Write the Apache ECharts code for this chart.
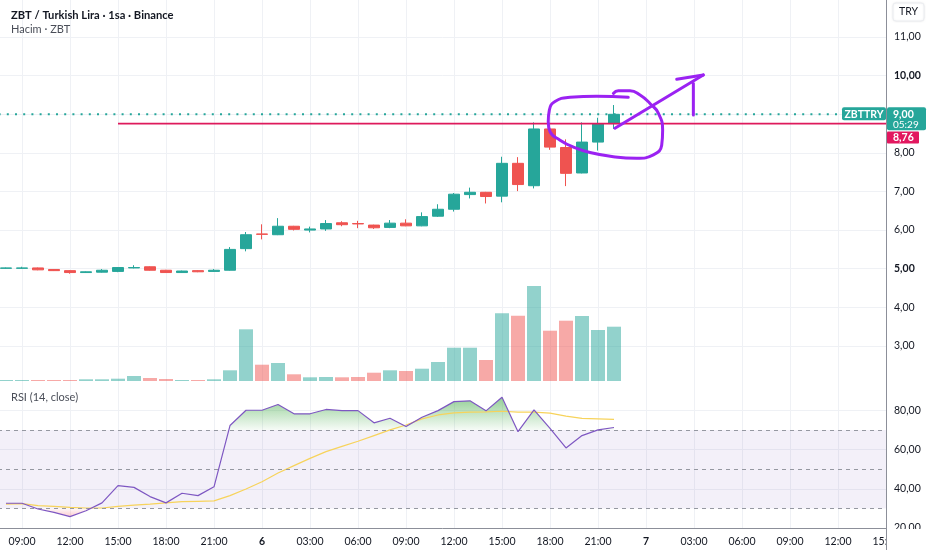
<!DOCTYPE html>
<html>
<head>
<meta charset="utf-8">
<script src="https://cdn.jsdelivr.net/npm/echarts@6/dist/echarts.min.js"></script>
<style>
  html, body { margin: 0; padding: 0; background: #fff; }
  #chart { width: 932px; height: 550px; }
</style>
</head>
<body>
<div id="chart"></div>
<script>
// hourly bars, "day hh:mm"
var times = [
  '5 08:00', '5 09:00', '5 10:00', '5 11:00', '5 12:00', '5 13:00', '5 14:00', '5 15:00',
  '5 16:00', '5 17:00', '5 18:00', '5 19:00', '5 20:00', '5 21:00', '5 22:00', '5 23:00',
  '6 00:00', '6 01:00', '6 02:00', '6 03:00', '6 04:00', '6 05:00', '6 06:00', '6 07:00',
  '6 08:00', '6 09:00', '6 10:00', '6 11:00', '6 12:00', '6 13:00', '6 14:00', '6 15:00',
  '6 16:00', '6 17:00', '6 18:00', '6 19:00', '6 20:00', '6 21:00', '6 22:00'
];
var open  = [5.01, 5.01, 5.02, 4.98, 4.95, 4.90, 4.91, 4.93, 5.02, 5.05, 4.96, 4.90, 4.95, 4.93, 4.96, 5.52,
             5.90, 5.88, 6.10, 6.00, 6.03, 6.19, 6.17, 6.13, 6.07, 6.18, 6.11, 6.36, 6.54, 6.92, 6.98, 6.88,
             7.73, 7.15, 8.62, 8.14, 7.48, 8.28, 8.76];
var close = [5.02, 5.02, 4.97, 4.95, 4.90, 4.92, 4.96, 5.03, 5.03, 4.96, 4.90, 4.94, 4.92, 4.96, 5.50, 5.88,
             5.89, 6.10, 6.02, 6.03, 6.17, 6.14, 6.16, 6.06, 6.18, 6.11, 6.35, 6.54, 6.93, 6.98, 6.87, 7.73,
             7.18, 8.62, 8.15, 7.47, 8.28, 8.76, 9.00];
var low   = [5.00, 5.00, 4.96, 4.94, 4.87, 4.89, 4.90, 4.91, 5.01, 4.95, 4.89, 4.89, 4.91, 4.92, 4.95, 5.45,
             5.76, 5.87, 5.99, 5.94, 5.98, 6.10, 6.05, 6.03, 6.05, 6.10, 6.10, 6.34, 6.48, 6.82, 6.69, 6.72,
             7.01, 7.08, 8.08, 7.14, 7.47, 8.06, 8.62];
var high  = [5.03, 5.05, 5.03, 4.99, 4.96, 4.93, 4.99, 5.04, 5.09, 5.06, 4.97, 4.95, 4.96, 4.99, 5.56, 5.95,
             6.15, 6.31, 6.11, 6.09, 6.26, 6.23, 6.24, 6.14, 6.26, 6.28, 6.46, 6.67, 6.96, 7.10, 6.99, 7.90,
             7.89, 8.79, 8.63, 8.35, 8.79, 8.91, 9.24];
var volume = [1, 1, 1, 1, 1, 1.7, 1.7, 2.3, 5, 3, 2, 1, 1, 1.7, 10.7, 51.7,
              16.3, 18, 6.7, 3.7, 4, 3.7, 4, 8.3, 10.7, 10, 12.3, 19, 33.3, 33.3, 21, 67.7,
              65.3, 95, 50.3, 60.3, 65, 51, 54.3];
var rsi   = [32.6, 32.6, 29.7, 28.0, 25.8, 28.8, 32.8, 41.6, 40.7, 36.0, 32.8, 37.7, 36.5, 41.0, 72.2, 80.0,
             80.0, 82.9, 78.2, 78.2, 80.4, 79.8, 79.8, 73.6, 75.9, 71.7, 76.4, 79.8, 84.4, 84.8, 79.7, 86.6,
             69.1, 80.2, 70.8, 60.8, 67.1, 70.0, 71.2];
var rsiMa = [32.2, 32.4, 31.4, 31.0, 30.5, 30.2, 30.2, 31.0, 31.7, 32.2, 32.8, 33.4, 33.6, 33.8, 36.5, 39.9,
             43.6, 48.0, 51.8, 55.5, 58.9, 61.6, 64.2, 67.1, 70.0, 72.5, 75.6, 77.6, 78.7, 79.0, 79.2, 79.5,
             79.0, 79.0, 78.5, 77.0, 75.9, 75.6, 75.3];

var priceRange = [2, 12];
var rsiRange = [20, 100];
var rsiUpper = 70, rsiMid = 50, rsiLower = 30;
var lastPrice = 9.00;
var countdown = '05:29';
var levelPrice = 8.76;
var levelFrom = '5 15:00';
var axisEnd = '7 15:00';

// hand-drawn annotation, in [hour index, price]
var annotLoop = [[40.89, 9.44], [38.92, 9.47], [37.25, 9.44], [36.31, 9.33], [35.96, 9.11], [35.89, 8.81],
                 [36.0, 8.55], [36.63, 8.33], [37.46, 8.15], [38.5, 8.01], [39.96, 7.90], [41.42, 7.86],
                 [42.46, 7.95], [42.98, 8.20], [43.04, 8.59], [42.77, 9.03], [42.25, 9.28], [41.63, 9.50],
                 [41.0, 9.61], [40.27, 9.61], [39.96, 9.54]];
var annotShaft = [[40.06, 8.64], [45.58, 10.02]];
var annotHead1 = [[43.92, 9.91], [45.58, 10.02]];
var annotHead2 = [[44.96, 9.80], [44.96, 8.98]];

var UP = '#26a69a', DOWN = '#ef5350';
var FONT = 'Lato';

function hourIndex(t) {
  var p = t.split(' ');
  return (+p[0] - 5) * 24 + (+p[1].split(':')[0]) - 6;
}
function fmt(v) { return v.toFixed(2).replace('.', ','); }

var hours = times.map(hourIndex);
var xMax = hourIndex(axisEnd);
var candles = hours.map(function (h, i) { return [h, open[i], close[i], low[i], high[i]]; });
var vols = hours.map(function (h, i) {
  return { value: [h, volume[i]], itemStyle: { color: close[i] >= open[i] ? 'rgba(38,166,154,0.5)' : 'rgba(239,83,80,0.5)' } };
});
var pair = function (arr) { return hours.map(function (h, i) { return [h, arr[i]]; }); };

// RSI outline clamped to a threshold, with the crossing points put in
function clampAt(t, above) {
  var out = [];
  for (var i = 0; i < hours.length; i++) {
    if (i > 0 && (rsi[i - 1] - t) * (rsi[i] - t) < 0) {
      var f = (t - rsi[i - 1]) / (rsi[i] - rsi[i - 1]);
      out.push([hours[i - 1] + f * (hours[i] - hours[i - 1]), t]);
    }
    out.push([hours[i], above ? Math.max(rsi[i], t) : Math.min(rsi[i], t)]);
  }
  return out;
}
function zoneSeries(t, above, fill) {
  var pts = clampAt(t, above);
  return {
    type: 'custom', xAxisIndex: 1, yAxisIndex: 1, silent: true, z: 2, data: [0],
    renderItem: function (params, api) {
      var poly = pts.map(function (p) { return api.coord(p); });
      poly.push(api.coord([hours[hours.length - 1], t]));
      poly.push(api.coord([hours[0], t]));
      return { type: 'polygon', shape: { points: poly }, style: { fill: fill } };
    }
  };
}

function xAxisCommon(idx, showLabel) {
  return {
    type: 'value', gridIndex: idx, min: 0, max: xMax, interval: 3,
    axisTick: { show: false },
    axisLine: { show: showLabel, lineStyle: { color: '#8c8f99' } },
    splitLine: { show: idx < 2, lineStyle: { color: '#eff1f5' } },
    axisLabel: {
      show: showLabel, color: '#131722', fontFamily: FONT, fontSize: 10.5, margin: 8,
      showMinLabel: true, showMaxLabel: true,
      formatter: function (v) {
        var hh = (6 + v) % 24, day = 5 + Math.floor((6 + v) / 24);
        if (hh === 0) return '{d|' + day + '}';
        return (hh < 10 ? '0' : '') + hh + ':00';
      },
      rich: { d: { fontWeight: 'bold', fontFamily: FONT, fontSize: 10.5, color: '#131722' } }
    }
  };
}

var chart = echarts.init(document.getElementById('chart'));
var option = {
  animation: false,
  backgroundColor: '#fff',
  textStyle: { fontFamily: FONT },
  title: [
    { text: 'ZBT / Turkish Lira · 1sa · Binance', left: 6, top: 5, textStyle: { fontFamily: FONT, fontSize: 11.2, fontWeight: 'bold', color: '#131722' } },
    { text: 'Hacim · ZBT', left: 6, top: 19, textStyle: { fontFamily: FONT, fontSize: 11, fontWeight: 'normal', color: '#4a4e58' } },
    { text: 'RSI (14, close)', left: 6, top: 387, textStyle: { fontFamily: FONT, fontSize: 11, fontWeight: 'normal', color: '#4a4e58' } }
  ],
  grid: [
    { left: -26, right: 46, top: -1.5, height: 386, outerBoundsMode: 'none' },
    { left: -26, right: 46, top: 371, height: 157, outerBoundsMode: 'none' },
    { left: -26, right: 46, top: 181, height: 200, outerBoundsMode: 'none' }
  ],
  xAxis: [xAxisCommon(0, false), xAxisCommon(1, true), xAxisCommon(2, false)],
  yAxis: [
    {
      type: 'value', gridIndex: 0, position: 'right', min: priceRange[0], max: priceRange[1], interval: 1,
      axisLine: { show: false }, axisTick: { show: false },
      splitLine: { show: true, showMinLine: false, showMaxLine: false, lineStyle: { color: '#eff1f5' } },
      axisLabel: {
        showMinLabel: false, showMaxLabel: false, margin: 8, color: '#131722', fontFamily: FONT, fontSize: 10.5,
        formatter: function (v) { return v % 5 === 0 ? '{b|' + fmt(v) + '}' : fmt(v); },
        rich: { b: { fontWeight: 'bold', fontFamily: FONT, fontSize: 10.5, color: '#131722' } }
      }
    },
    {
      type: 'value', gridIndex: 1, position: 'right', min: rsiRange[0], max: rsiRange[1], interval: 20,
      axisLine: { show: false }, axisTick: { show: false },
      splitLine: { show: true, showMinLine: false, showMaxLine: false, lineStyle: { color: '#eff1f5' } },
      axisLabel: { showMaxLabel: false, margin: 8, color: '#131722', fontFamily: FONT, fontSize: 10.5, formatter: fmt }
    },
    { type: 'value', gridIndex: 2, min: 0, max: 200, show: false }
  ],
  series: [
    {
      name: 'Hacim', type: 'bar', xAxisIndex: 2, yAxisIndex: 2, barWidth: 14, data: vols, z: 1
    },
    {
      name: 'ZBTTRY', type: 'candlestick', xAxisIndex: 0, yAxisIndex: 0, barWidth: 11,
      encode: { x: 0, y: [1, 2, 3, 4] },
      data: candles, z: 3,
      itemStyle: { color: UP, color0: DOWN, borderColor: UP, borderColor0: DOWN, borderWidth: 1 }
    },
    {
      name: 'last', type: 'line', xAxisIndex: 0, yAxisIndex: 0, symbol: 'none', silent: true, z: 4,
      data: [[0, lastPrice], [xMax, lastPrice]],
      lineStyle: { color: UP, width: 2, type: [2, 6.2] }
    },
    {
      name: 'level', type: 'line', xAxisIndex: 0, yAxisIndex: 0, symbol: 'none', silent: true, z: 4,
      data: [[hourIndex(levelFrom), levelPrice], [xMax, levelPrice]],
      lineStyle: { color: '#de1a5c', width: 1.7 }
    },
    {
      name: 'loop', type: 'line', xAxisIndex: 0, yAxisIndex: 0, symbol: 'none', smooth: 0.5, z: 6,
      data: annotLoop, lineStyle: { color: '#9b22f2', width: 3, cap: 'round' }
    },
    {
      name: 'shaft', type: 'line', xAxisIndex: 0, yAxisIndex: 0, symbol: 'none', z: 6,
      data: annotShaft, lineStyle: { color: '#9b22f2', width: 3, cap: 'round' }
    },
    {
      name: 'head1', type: 'line', xAxisIndex: 0, yAxisIndex: 0, symbol: 'none', z: 6,
      data: annotHead1, lineStyle: { color: '#9b22f2', width: 3, cap: 'round' }
    },
    {
      name: 'head2', type: 'line', xAxisIndex: 0, yAxisIndex: 0, symbol: 'none', z: 6,
      data: annotHead2, lineStyle: { color: '#9b22f2', width: 3, cap: 'round' }
    },
    // RSI pane
    zoneSeries(rsiUpper, true, new echarts.graphic.LinearGradient(0, 0, 0, 1, [
      { offset: 0, color: 'rgba(76,175,80,0.6)' },
      { offset: 1, color: 'rgba(76,175,80,0.05)' }
    ])),
    zoneSeries(rsiLower, false, new echarts.graphic.LinearGradient(0, 0, 0, 1, [
      { offset: 0, color: 'rgba(242,54,69,0.03)' },
      { offset: 1, color: 'rgba(242,54,69,0.25)' }
    ])),
    {
      name: 'RSI MA', type: 'line', xAxisIndex: 1, yAxisIndex: 1, symbol: 'none', z: 4,
      data: pair(rsiMa), lineStyle: { color: '#f7d35b', width: 1.2 }
    },
    {
      name: 'RSI', type: 'line', xAxisIndex: 1, yAxisIndex: 1, symbol: 'none', z: 5,
      data: pair(rsi), lineStyle: { color: '#7e57c2', width: 1.2 },
      markArea: {
        silent: true, itemStyle: { color: 'rgba(126,87,194,0.09)' },
        data: [[{ yAxis: rsiLower }, { yAxis: rsiUpper }]]
      },
      markLine: {
        silent: true, symbol: 'none', label: { show: false },
        lineStyle: { color: '#9598a1', width: 1, type: [4, 4] },
        data: [{ yAxis: rsiUpper }, { yAxis: rsiMid }, { yAxis: rsiLower }]
      }
    }
  ]
};
chart.setOption(option);

// price scale badges and frame
var xr = chart.convertToPixel({ xAxisIndex: 1 }, xMax);
var y9 = chart.convertToPixel({ yAxisIndex: 0 }, lastPrice);
var yL = chart.convertToPixel({ yAxisIndex: 0 }, levelPrice);
var badgeFont = 'bold 10.5px ' + FONT;
chart.setOption({
  graphic: [
    { type: 'rect', z: 100, shape: { x: xr + 1, y: 529, width: 60, height: 30 }, style: { fill: '#fff' } },
    { type: 'line', z: 101, shape: { x1: xr + 0.5, y1: 0, x2: xr + 0.5, y2: 550 }, style: { stroke: '#8c8f99', lineWidth: 1 } },
    { type: 'rect', z: 101, shape: { x: xr - 44, y: y9 - 7, width: 44, height: 13, r: 2 }, style: { fill: UP } },
    { type: 'text', z: 102, x: xr - 22, y: y9, style: { text: 'ZBTTRY', fill: '#fff', font: badgeFont, align: 'center', verticalAlign: 'middle' } },
    { type: 'rect', z: 101, shape: { x: xr + 1, y: y9 - 7, width: 39, height: 23, r: 2 }, style: { fill: UP } },
    { type: 'text', z: 102, x: xr + 7, y: y9, style: { text: fmt(lastPrice), fill: '#fff', font: badgeFont, verticalAlign: 'middle' } },
    { type: 'text', z: 102, x: xr + 7, y: y9 + 10, style: { text: countdown, fill: '#fff', font: '10px ' + FONT, verticalAlign: 'middle' } },
    { type: 'rect', z: 101, shape: { x: xr + 1, y: yL + 8, width: 32, height: 12, r: 1 }, style: { fill: '#e2175f' } },
    { type: 'text', z: 102, x: xr + 7, y: yL + 14, style: { text: fmt(levelPrice), fill: '#fff', font: badgeFont, verticalAlign: 'middle' } },
    { type: 'rect', z: 101, shape: { x: xr + 7, y: 3, width: 31, height: 18, r: 3 }, style: { fill: '#fff', stroke: '#eceef2', shadowBlur: 2, shadowColor: 'rgba(0,0,0,0.08)' } },
    { type: 'text', z: 102, x: xr + 22.5, y: 12, style: { text: 'TRY', fill: '#131722', font: '10.5px ' + FONT, align: 'center', verticalAlign: 'middle' } }
  ]
});
</script>
</body>
</html>
